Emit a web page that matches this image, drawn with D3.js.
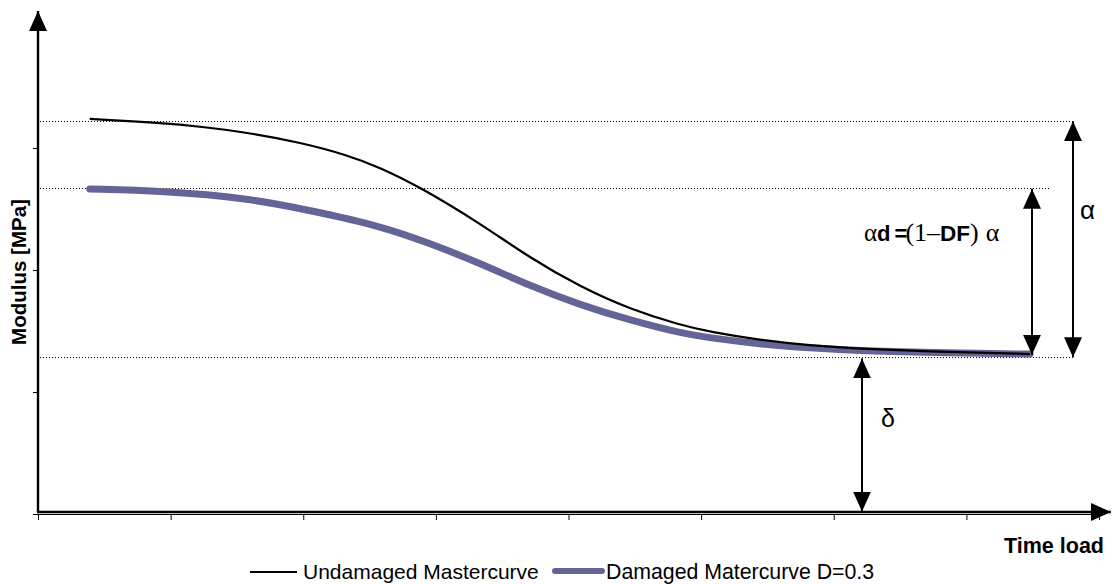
<!DOCTYPE html>
<html>
<head>
<meta charset="utf-8">
<script src="https://cdn.jsdelivr.net/npm/d3@7"></script>
<style>
  html, body { margin: 0; padding: 0; background: #fff; }
  svg { display: block; }
  text { font-family: "Liberation Sans", Arial, sans-serif; }
</style>
</head>
<body>
<svg id="chart" width="1112" height="584"></svg>
<script>
// Time load (category units) at which the undamaged mastercurve is sampled
const timeLoadU = [0.39, 0.94, 1.22, 1.60, 1.98, 2.33, 2.58, 2.88, 3.33, 3.71,
                   4.09, 4.46, 4.84, 5.07, 5.44, 5.82, 6.20, 6.88, 7.48];
// Modulus of the undamaged mastercurve
const undamaged = [3.238, 3.205, 3.176, 3.123, 3.045, 2.943, 2.840, 2.680, 2.385, 2.098,
                   1.861, 1.680, 1.549, 1.492, 1.426, 1.381, 1.352, 1.328, 1.311];
// Time load at which the damaged mastercurve is sampled
const timeLoadD = [0.39, 0.94, 1.58, 2.07, 2.58, 2.95, 3.33, 3.71, 4.09, 4.46,
                   4.84, 5.07, 5.44, 5.82, 6.20, 6.88, 7.48];
// Modulus of the damaged mastercurve (D = 0.3)
const damaged = [2.664, 2.648, 2.590, 2.484, 2.361, 2.221, 2.057, 1.869, 1.713, 1.590,
                 1.484, 1.443, 1.393, 1.361, 1.336, 1.320, 1.311];

// Reference levels of the sigmoidal model
const deltaLevel = 1.285;  // lower asymptote  δ
const alphaTop = 3.22;     // δ + α
const alphaDTop = 2.67;    // δ + αd

const xTicks = [0, 1, 2, 3, 4, 5, 6, 7, 8];
const yTicks = [1, 2, 3];
const seriesNames = ["Undamaged Mastercurve", "Damaged Matercurve D=0.3"];

const svg = d3.select("#chart");
const x = d3.scaleLinear().domain([0, 8]).range([38, 1099]);
const y = d3.scaleLinear().domain([0, 4]).range([514, 26]);

const purple = "#646496";
const serif = "'Liberation Serif', 'DejaVu Serif', serif";

// arrowhead marker
const defs = svg.append("defs");
defs.append("marker")
  .attr("id", "head")
  .attr("viewBox", "0 0 20 20")
  .attr("refX", 20).attr("refY", 10)
  .attr("markerWidth", 20).attr("markerHeight", 20)
  .attr("markerUnits", "userSpaceOnUse")
  .attr("orient", "auto-start-reverse")
  .append("path").attr("d", "M0,1 L20,10 L0,19 Z").attr("fill", "#000");

// category axis (no labels)
svg.append("g")
  .attr("transform", `translate(0,${y(0)})`)
  .call(d3.axisBottom(x).tickValues(xTicks).tickSize(6).tickFormat(""))
  .call(g => g.select(".domain").attr("d", `M33,0.5H1099`).attr("stroke", "#000").attr("stroke-width", 1.2))
  .call(g => g.selectAll(".tick line").attr("stroke", "#000").attr("stroke-width", 1));

// value axis
svg.append("g")
  .attr("transform", `translate(38,0)`)
  .call(d3.axisLeft(y).tickValues(yTicks).tickSize(5).tickFormat(""))
  .call(g => g.select(".domain").remove())
  .call(g => g.selectAll(".tick line").attr("stroke", "#000").attr("stroke-width", 1));

// drawn axis arrows
svg.append("line")
  .attr("x1", 38).attr("y1", 512).attr("x2", 38).attr("y2", 11)
  .attr("stroke", "#000").attr("stroke-width", 2.4)
  .attr("marker-end", "url(#head)");
svg.append("line")
  .attr("x1", 37).attr("y1", 512).attr("x2", 1111).attr("y2", 512)
  .attr("stroke", "#000").attr("stroke-width", 2.4)
  .attr("marker-end", "url(#head)");

// dotted reference levels
const dotted = [
  { v: alphaTop, x2: 1073 },
  { v: alphaDTop, x2: 1050 },
  { v: deltaLevel, x2: 1073 }
];
svg.selectAll("line.ref").data(dotted).enter().append("line")
  .attr("class", "ref")
  .attr("x1", 40).attr("x2", d => d.x2)
  .attr("y1", d => Math.round(y(d.v)) + 0.5).attr("y2", d => Math.round(y(d.v)) + 0.5)
  .attr("stroke", "#000").attr("stroke-width", 1)
  .attr("stroke-dasharray", "1,2");

// mastercurves
const line = d3.line().curve(d3.curveBasis);
const ptsU = timeLoadU.map((t, i) => [x(t), y(undamaged[i])]);
const ptsD = timeLoadD.map((t, i) => [x(t), y(damaged[i])]);

svg.append("path").attr("d", line(ptsD))
  .attr("fill", "none").attr("stroke", purple)
  .attr("stroke-width", 7).attr("stroke-linecap", "round");
svg.append("path").attr("d", line(ptsU))
  .attr("fill", "none").attr("stroke", "#000")
  .attr("stroke-width", 2.2);

// double-headed dimension arrows
function dimArrow(px, v1, v2) {
  svg.append("line")
    .attr("x1", px).attr("x2", px)
    .attr("y1", y(v1)).attr("y2", y(v2))
    .attr("stroke", "#000").attr("stroke-width", 2)
    .attr("marker-start", "url(#head)")
    .attr("marker-end", "url(#head)");
}
dimArrow(1073, alphaTop, deltaLevel);
dimArrow(1032, alphaDTop - 0.005, deltaLevel + 0.02);
dimArrow(862, deltaLevel - 0.01, 0.02);

// dimension labels
svg.append("text")
  .attr("x", 1080).attr("y", 219)
  .attr("font-family", serif)
  .attr("font-size", 26).text("α");

svg.append("text")
  .attr("x", 881).attr("y", 427)
  .attr("font-family", serif)
  .attr("font-size", 25).text("δ");

const ad = svg.append("text").attr("x", 864).attr("y", 241).attr("font-size", 25);
ad.append("tspan").attr("font-family", serif).text("α");
ad.append("tspan").attr("font-weight", "bold").attr("font-size", 22).text("d");
ad.append("tspan").attr("font-weight", "bold").attr("font-size", 22).attr("dx", 4).text("=");
ad.append("tspan").attr("font-family", serif).attr("font-size", 26).attr("dx", -2).text("(1–");
ad.append("tspan").attr("font-weight", "bold").attr("font-size", 22.5).text("DF");
ad.append("tspan").attr("font-family", serif).attr("font-size", 26).text(")");
ad.append("tspan").attr("font-family", serif).attr("dx", 7).attr("font-size", 26).text("α");

// axis titles
svg.append("text")
  .attr("x", 1104).attr("y", 553)
  .attr("text-anchor", "end")
  .attr("font-weight", "bold").attr("font-size", 21.5)
  .text("Time load");

svg.append("text")
  .attr("transform", "translate(26,272) rotate(-90)")
  .attr("text-anchor", "middle")
  .attr("font-weight", "bold").attr("font-size", 20.5)
  .text("Modulus [MPa]");

// legend
const legend = svg.append("g");
legend.append("line")
  .attr("x1", 250).attr("x2", 297).attr("y1", 572).attr("y2", 572)
  .attr("stroke", "#000").attr("stroke-width", 2);
legend.append("text")
  .attr("x", 303).attr("y", 579).attr("font-size", 21)
  .text(seriesNames[0]);
legend.append("line")
  .attr("x1", 555).attr("x2", 602).attr("y1", 571).attr("y2", 571)
  .attr("stroke", purple).attr("stroke-width", 6).attr("stroke-linecap", "round");
legend.append("text")
  .attr("x", 606).attr("y", 579).attr("font-size", 21.3)
  .text(seriesNames[1]);
</script>
</body>
</html>
